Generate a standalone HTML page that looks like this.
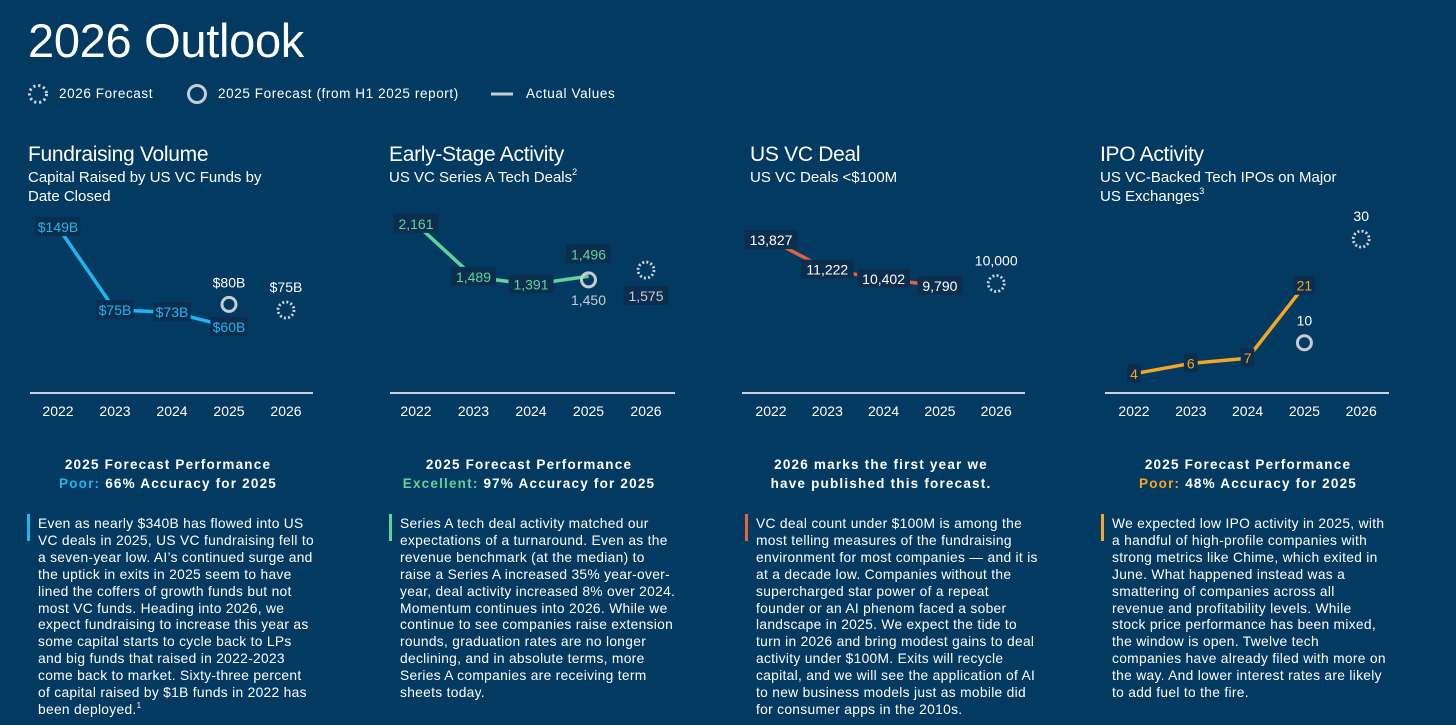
<!DOCTYPE html>
<html><head><meta charset="utf-8"><style>
html,body{margin:0;width:1456px;height:725px;overflow:hidden}
body{background:#033a62;font-family:"Liberation Sans",sans-serif;color:#fff;position:relative}
.a{position:absolute;white-space:nowrap}
.t{font-size:21px;letter-spacing:-0.3px}
.s{font-size:15px;line-height:19px}
sup{font-size:9px;vertical-align:top;line-height:0;position:relative;top:4px}
.perf{font-size:13.5px;font-weight:bold;letter-spacing:1.2px;line-height:19px;text-align:center;width:300px}
.body{font-size:13.8px;letter-spacing:0.3px;line-height:16.9px;padding-left:11px}
.bar{position:absolute;width:3px;height:27px;left:0;top:-2px}
</style></head><body>
<div class="a" style="left:28px;top:13px;font-size:47px;letter-spacing:-0.3px">2026 Outlook</div>
<div class="a" style="left:28px;top:84px;font-size:13.5px;letter-spacing:0.6px">
<svg width="600" height="22" style="position:absolute;left:0;top:0">
<circle cx="10" cy="10" r="8.5" fill="none" stroke="#d0d4da" stroke-width="3" stroke-dasharray="2.2 2.8"/>
<circle cx="169" cy="10" r="8.5" fill="none" stroke="#c8ccd2" stroke-width="3"/>
<line x1="463" y1="10" x2="485" y2="10" stroke="#c8ccd2" stroke-width="3"/></svg>
<span class="a" style="left:31px;top:2px">2026 Forecast</span>
<span class="a" style="left:190px;top:2px">2025 Forecast (from H1 2025 report)</span>
<span class="a" style="left:498px;top:2px">Actual Values</span>
</div>

<div class="a t" style="left:28px;top:143px">Fundraising Volume</div>
<div class="a s" style="left:28px;top:168px">Capital Raised by US VC Funds by<br>Date Closed</div>
<div class="a t" style="left:389px;top:143px">Early-Stage Activity</div>
<div class="a s" style="left:389px;top:168px">US VC Series A Tech Deals<sup>2</sup></div>
<div class="a t" style="left:750px;top:143px">US VC Deal</div>
<div class="a s" style="left:750px;top:168px">US VC Deals &lt;$100M</div>
<div class="a t" style="left:1100px;top:143px">IPO Activity</div>
<div class="a s" style="left:1100px;top:168px">US VC-Backed Tech IPOs on Major<br>US Exchanges<sup>3</sup></div>

<svg id="charts" width="1456" height="725" style="position:absolute;left:0;top:0" font-family="Liberation Sans, sans-serif"></svg>

<div class="a perf" style="left:18px;top:455px">2025 Forecast Performance<br><span style="color:#1fb5f0">Poor:</span> 66% Accuracy for 2025</div>
<div class="a perf" style="left:379px;top:455px">2025 Forecast Performance<br><span style="color:#5fd39a">Excellent:</span> 97% Accuracy for 2025</div>
<div class="a perf" style="left:731px;top:455px">2026 marks the first year we<br>have published this forecast.</div>
<div class="a perf" style="left:1098px;top:455px">2025 Forecast Performance<br><span style="color:#f5a623">Poor:</span> 48% Accuracy for 2025</div>

<div class="a body" style="left:27px;top:516px"><div class="bar" style="background:#1fb5f0"></div>Even as nearly $340B has flowed into US<br>VC deals in 2025, US VC fundraising fell to<br>a seven-year low. AI’s continued surge and<br>the uptick in exits in 2025 seem to have<br>lined the coffers of growth funds but not<br>most VC funds. Heading into 2026, we<br>expect fundraising to increase this year as<br>some capital starts to cycle back to LPs<br>and big funds that raised in 2022-2023<br>come back to market. Sixty-three percent<br>of capital raised by $1B funds in 2022 has<br>been deployed.<sup style="font-size:8px">1</sup></div>
<div class="a body" style="left:389px;top:516px"><div class="bar" style="background:#5fd39a"></div>Series A tech deal activity matched our<br>expectations of a turnaround. Even as the<br>revenue benchmark (at the median) to<br>raise a Series A increased 35% year-over-<br>year, deal activity increased 8% over 2024.<br>Momentum continues into 2026. While we<br>continue to see companies raise extension<br>rounds, graduation rates are no longer<br>declining, and in absolute terms, more<br>Series A companies are receiving term<br>sheets today.</div>
<div class="a body" style="left:745px;top:516px"><div class="bar" style="background:#e8603c"></div>VC deal count under $100M is among the<br>most telling measures of the fundraising<br>environment for most companies — and it is<br>at a decade low. Companies without the<br>supercharged star power of a repeat<br>founder or an AI phenom faced a sober<br>landscape in 2025. We expect the tide to<br>turn in 2026 and bring modest gains to deal<br>activity under $100M. Exits will recycle<br>capital, and we will see the application of AI<br>to new business models just as mobile did<br>for consumer apps in the 2010s.</div>
<div class="a body" style="left:1101px;top:516px"><div class="bar" style="background:#f5a623"></div>We expected low IPO activity in 2025, with<br>a handful of high-profile companies with<br>strong metrics like Chime, which exited in<br>June. What happened instead was a<br>smattering of companies across all<br>revenue and profitability levels. While<br>stock price performance has been mixed,<br>the window is open. Twelve tech<br>companies have already filed with more on<br>the way. And lower interest rates are likely<br>to add fuel to the fire.</div>

<script>
const years = ["2022","2023","2024","2025","2026"];
const fundActual = [149, 75, 73, 60];
const fundActualLabels = ["$149B","$75B","$73B","$60B"];
const fundF25 = 80, fundF25Label = "$80B";
const fundF26 = 75, fundF26Label = "$75B";
const seriesActual = [2161, 1489, 1391, 1496];
const seriesActualLabels = ["2,161","1,489","1,391","1,496"];
const seriesF25 = 1450, seriesF25Label = "1,450";
const seriesF26 = 1575, seriesF26Label = "1,575";
const dealActual = [13827, 11222, 10402, 9790];
const dealActualLabels = ["13,827","11,222","10,402","9,790"];
const dealF26 = 10000, dealF26Label = "10,000";
const ipoActual = [4, 6, 7, 21];
const ipoActualLabels = ["4","6","7","21"];
const ipoF25 = 10, ipoF25Label = "10";
const ipoF26 = 30, ipoF26Label = "30";

const svg = document.getElementById('charts');
const NS = 'http://www.w3.org/2000/svg';
function mk(tag, attrs, name){
  const e = document.createElementNS(NS, tag);
  for (const k in attrs) e.setAttribute(k, attrs[k]);
  
  
  svg.appendChild(e); return e;
}
function txt(x,y,s,fill,name,anchor){
  const t = mk('text',{x:x,y:y,fill:fill,'font-size':14,'text-anchor':anchor||'middle'},name);
  t.textContent = s; return t;
}
function boxLabel(x,y,s,fill,name){
  const w = s.length*7.8+6;
  mk('rect',{x:x-w/2,y:y-10,width:w,height:19,fill:'#0b2e4f',rx:2},name+'-bg');
  txt(x,y+5,s,fill,name);
}
function chart(cfg){
  const xs = i => cfg.x0 + i*cfg.step;
  const ys = v => cfg.base - v*cfg.k;
  mk('line',{x1:cfg.ax1,y1:393,x2:cfg.ax2,y2:393,stroke:'#c8d2e0','stroke-width':2},cfg.id+'-x-axis');
  years.forEach((y,i)=>{ txt(xs(i),416,y,'#ffffff',cfg.id+'-x-tick-'+y); });
  const pts = cfg.actual.map((v,i)=>xs(i)+','+ys(v)).join(' ');
  mk('polyline',{points:pts,fill:'none',stroke:cfg.color,'stroke-width':3.5,'stroke-linejoin':'round'},cfg.id+'-actual-line');
  if (cfg.f25!=null){
    const cy = ys(cfg.f25);
    mk('circle',{cx:xs(3),cy:cy,r:7,fill:'none',stroke:'#c8ccd2','stroke-width':3},cfg.id+'-forecast-2025-marker');
    if (cfg.f25Below) txt(xs(3),cy+25,cfg.f25Label,'#c8ccd2',cfg.id+'-forecast-2025-label');
    else txt(xs(3),cy-17,cfg.f25Label,'#ffffff',cfg.id+'-forecast-2025-label');
  }
  const cy6 = ys(cfg.f26);
  mk('circle',{cx:xs(4),cy:cy6,r:8,fill:'none',stroke:'#d0d4da','stroke-width':2.8,'stroke-dasharray':'2 2.2'},cfg.id+'-forecast-2026-marker');
  if (cfg.f26Box) boxLabel(xs(4),cy6+26,cfg.f26Label,'#c8ccd2',cfg.id+'-forecast-2026-label');
  else txt(xs(4),cy6-18,cfg.f26Label,'#ffffff',cfg.id+'-forecast-2026-label');
  cfg.actual.forEach((v,i)=>{
    let ly = ys(v) + (cfg.offs ? cfg.offs[i] : 0);
    boxLabel(xs(i),ly,cfg.labels[i],cfg.labelColor||cfg.color,cfg.id+'-point-label-'+years[i]);
  });
}
chart({id:'fundraising',x0:58,step:57,ax1:30,ax2:313,base:394,k:1.12,actual:fundActual,labels:fundActualLabels,color:'#1fb5f0',f25:fundF25,f25Label:fundF25Label,f26:fundF26,f26Label:fundF26Label});
chart({id:'early-stage',x0:416,step:57.5,ax1:390,ax2:675,base:394,k:0.0787,actual:seriesActual,labels:seriesActualLabels,color:'#5fd39a',f25:seriesF25,f25Label:seriesF25Label,f25Below:true,f26:seriesF26,f26Label:seriesF26Label,f26Box:true,offs:[0,0,0,-22]});
chart({id:'vc-deal',x0:771,step:56.3,ax1:742,ax2:1025,base:397,k:0.01135,actual:dealActual,labels:dealActualLabels,color:'#e8603c',labelColor:'#ffffff',f25:null,f26:dealF26,f26Label:dealF26Label});
chart({id:'ipo',x0:1134,step:56.8,ax1:1105,ax2:1389,base:394.5,k:5.18,actual:ipoActual,labels:ipoActualLabels,color:'#f5a623',f25:ipoF25,f25Label:ipoF25Label,f26:ipoF26,f26Label:ipoF26Label});
</script>
</body></html>
